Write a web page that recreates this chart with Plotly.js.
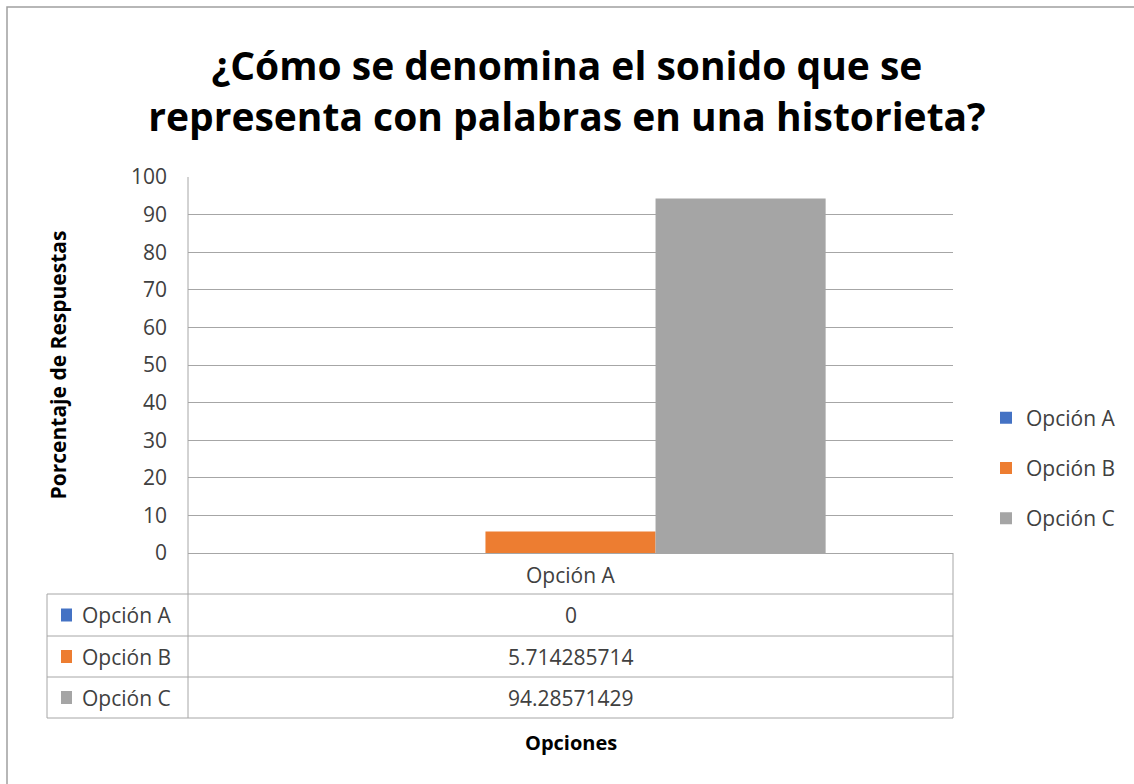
<!DOCTYPE html>
<html>
<head>
<meta charset="utf-8">
<script src="https://cdn.plot.ly/plotly-3.0.1.min.js"></script>
<style>
html,body{margin:0;padding:0;background:#fff;overflow:hidden;}
#chart{width:1134px;height:784px;}
</style>
</head>
<body>
<div id="chart"></div>
<script>
// ---- data ----
const categories = ['Opción A'];
const seriesNames = ['Opción A', 'Opción B', 'Opción C'];
const seriesValues = [0, 5.714285714, 94.28571429];
const seriesColors = ['#4472C4', '#ED7D31', '#A5A5A5'];
const yTickValues = [0, 10, 20, 30, 40, 50, 60, 70, 80, 90, 100];
const titleText = '¿Cómo se denomina el sonido que se<br>representa con palabras en una historieta?';
const yTitle = 'Porcentaje de Respuestas';
const xTitle = 'Opciones';

// ---- layout geometry ----
const W = 1134, H = 784;
const L = 188, R = 953, T = 177, B = 553;
const pw = R - L, ph = B - T;
const px = v => (v - L) / pw;      // pixel x -> paper x
const py = v => (B - v) / ph;      // pixel y -> paper y

const main = '"Open Sans", sans-serif';
const gridCol = '#A6A6A6';
const tableCol = '#A6A6A6';
const textCol = '#404040';

const traces = seriesNames.map((name, i) => ({
  type: 'bar',
  name: name,
  x: categories,
  y: [seriesValues[i]],
  marker: {color: seriesColors[i], line: {width: 0}},
  legendgroup: 'g' + i,
  hoverinfo: 'name+y'
}));

// data table rows
const rowTops = [553, 594, 636, 677, 718];
const colLeft = 47;
const shapes = [];
const annotations = [];
const lineStyle = {color: tableCol, width: 1};

// horizontal lines of table
shapes.push({type: 'line', xref: 'paper', yref: 'paper', x0: px(colLeft), x1: px(R), y0: py(594), y1: py(594), line: lineStyle});
for (let k = 2; k < rowTops.length; k++) {
  shapes.push({type: 'line', xref: 'paper', yref: 'paper', x0: px(colLeft), x1: px(R), y0: py(rowTops[k]), y1: py(rowTops[k]), line: lineStyle});
}
// vertical lines
shapes.push({type: 'line', xref: 'paper', yref: 'paper', x0: px(L), x1: px(L), y0: py(T), y1: py(718), line: lineStyle});
shapes.push({type: 'line', xref: 'paper', yref: 'paper', x0: px(R), x1: px(R), y0: py(553), y1: py(718), line: lineStyle});
shapes.push({type: 'line', xref: 'paper', yref: 'paper', x0: px(colLeft), x1: px(colLeft), y0: py(594), y1: py(718), line: lineStyle});

// header cell (category)
categories.forEach(c => {
  annotations.push({xref: 'paper', yref: 'paper', x: px((L + R) / 2), y: py(575), text: c, showarrow: false,
    font: {family: main, size: 21, color: textCol}, xanchor: 'center', yanchor: 'middle'});
});
// rows
seriesNames.forEach((name, i) => {
  const top = rowTops[i + 1], bot = rowTops[i + 2];
  const mid = (top + bot) / 2;
  shapes.push({type: 'rect', xref: 'paper', yref: 'paper', x0: px(61), x1: px(72), y0: py(mid - 6.5), y1: py(mid + 6.5),
    fillcolor: seriesColors[i], line: {width: 0}});
  annotations.push({xref: 'paper', yref: 'paper', x: px(80), y: py(mid), text: name, showarrow: false,
    font: {family: main, size: 21, color: textCol}, xanchor: 'left', yanchor: 'middle'});
  annotations.push({xref: 'paper', yref: 'paper', x: px((L + R) / 2), y: py(mid), text: String(seriesValues[i]), showarrow: false,
    font: {family: main, size: 21, color: textCol}, xanchor: 'center', yanchor: 'middle'});
});

// outer chart border
shapes.push({type: 'rect', xref: 'paper', yref: 'paper', x0: px(7), x1: px(W + 20), y0: py(7), y1: py(H + 20),
  line: {color: '#A0A0A0', width: 1.5}, fillcolor: 'rgba(0,0,0,0)'});

// x axis title as annotation
annotations.push({xref: 'paper', yref: 'paper', x: px(571), y: py(742), text: xTitle, showarrow: false,
  font: {family: main, size: 20, color: '#000', weight: 'bold'}, xanchor: 'center', yanchor: 'middle'});

const layout = {
  width: W, height: H,
  margin: {l: L, r: W - R, t: T, b: H - B, pad: 0},
  paper_bgcolor: '#fff', plot_bgcolor: '#fff',
  title: {text: titleText, x: 0.5, xref: 'container', xanchor: 'center', y: 1 - 80 / H, yref: 'container', yanchor: 'middle',
    font: {family: main, size: 39, color: '#000', weight: 'bold'}},
  barmode: 'group',
  bargap: 0.333,
  bargroupgap: 0,
  xaxis: {
    type: 'category', showgrid: false, showline: false, zeroline: false,
    showticklabels: false, ticks: '', fixedrange: true
  },
  yaxis: {
    range: [0, 100], tickvals: yTickValues, showgrid: true, gridcolor: gridCol, gridwidth: 1,
    zeroline: true, zerolinecolor: gridCol, zerolinewidth: 1, showline: false, ticks: '',
    tickfont: {family: main, size: 21, color: textCol}, ticklabelstandoff: 20,
    title: {text: yTitle, standoff: 58, font: {family: main, size: 21, color: '#000', weight: 'bold'}},
    automargin: false, fixedrange: true
  },
  showlegend: true,
  legend: {
    xref: 'container', yref: 'container',
    x: 986 / W, y: 1 - 468 / H, xanchor: 'left', yanchor: 'middle',
    font: {family: main, size: 21, color: textCol}, bgcolor: 'rgba(0,0,0,0)',
    tracegroupgap: 20, itemwidth: 30, traceorder: 'grouped'
  },
  shapes: shapes,
  annotations: annotations
};

Plotly.newPlot('chart', traces, layout, {displayModeBar: false, staticPlot: true});
</script>
</body>
</html>
